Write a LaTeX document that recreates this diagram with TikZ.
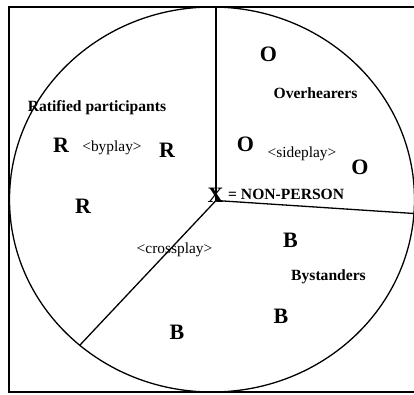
\documentclass[tikz,border=0pt]{standalone}
\usepackage{fontspec}
\setmainfont{Liberation Serif}
\begin{document}
\begin{tikzpicture}[x=1pt,y=-1pt,
  big/.style={font=\fontsize{22}{24}\selectfont\bfseries, anchor=base, inner sep=0pt},
  lab/.style={font=\fontsize{15.6}{17}\selectfont\bfseries, anchor=base, inner sep=0pt},
  play/.style={font=\fontsize{15.4}{17}\selectfont, anchor=base, inner sep=0pt},
  ln/.style={line width=1.3pt}]
\useasboundingbox (0,0) rectangle (414,395);
\fill[white] (0,0) rectangle (414,395);
\clip (0,0) rectangle (414,395);
\draw[ln] (9,7) rectangle (430,392);
\draw[ln] (212,199.5) ellipse [x radius=202.5pt, y radius=192.5pt];
\coordinate (c) at (216,200.5);
\coordinate (top) at (216,7);
\coordinate (rt) at (414,213.5);
\coordinate (bl) at (80,345);
\draw[ln] (c) -- (top);
\draw[ln] (c) -- (rt);
\draw[ln] (c) -- (bl);
\node[big] (o1) at (268.5,62) {O};
\node[lab] (over) at (315.5,99) {Overhearers};
\node[lab] (rat) at (97,112) {Ratified participants};
\node[big] (r1) at (61,153) {R};
\node[play] (by) at (112,152) {<byplay>};
\node[big] (r2) at (167,158) {R};
\node[big] (o2) at (245.5,152) {O};
\node[play] (side) at (302,158) {<sideplay>};
\node[big] (o3) at (360,175) {O};
\node[big] (x) at (215.5,202) {X};
\node[lab, anchor=base west] (np) at (228,200) {= NON-PERSON};
\node[big] (r3) at (83,213) {R};
\node[play] (cross) at (174.5,253) {<crossplay>};
\node[big] (b1) at (290.5,247) {B};
\node[lab] (bys) at (328.5,280) {Bystanders};
\node[big] (b2) at (281,323) {B};
\node[big] (b3) at (177,339) {B};
\end{tikzpicture}
\end{document}
